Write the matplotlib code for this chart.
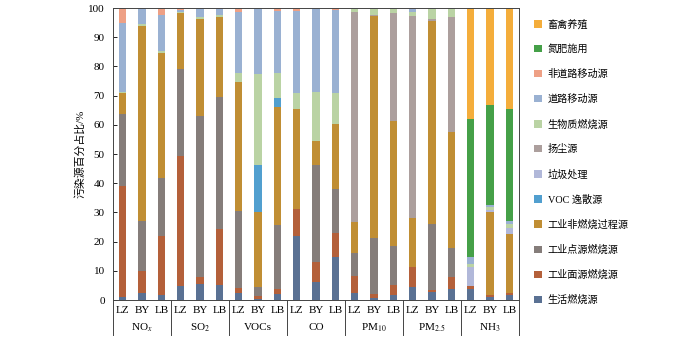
import matplotlib
matplotlib.use("Agg")
import matplotlib.pyplot as plt
from matplotlib.patches import Patch
from matplotlib.transforms import blended_transform_factory

plt.rcParams['font.family'] = ['Liberation Serif', 'Noto Sans CJK SC']
plt.rcParams['mathtext.fontset'] = 'stix'

# bars: 7 pollutants x 3 cities
cities = ['LZ', 'BY', 'LB']
pollutants = [r'NO$_x$', r'SO$_2$', 'VOCs', 'CO', r'PM$_{10}$', r'PM$_{2.5}$', r'NH$_3$']

# source shares (%) per bar, bottom to top of the stack
residential = [0.9, 2.5, 1.7, 4.9, 5.4, 5.1, 2.4, 0.5, 2.1, 21.9, 6.3, 14.8,
               2.3, 0.8, 1.6, 4.3, 2.6, 3.7, 3.7, 1.0, 1.6]
ind_area = [38.3, 7.5, 20.1, 44.3, 2.6, 19.2, 1.6, 1.0, 1.6, 9.3, 6.6, 8.1,
            5.9, 1.3, 3.5, 6.9, 0.9, 4.1, 1.1, 0.7, 0.7]
ind_point = [24.5, 17.1, 19.9, 29.8, 55.1, 45.1, 26.6, 3.1, 22.0, 0.0, 33.3, 15.0,
             7.8, 19.0, 13.4, 0.0, 22.4, 9.9, 0.0, 0.0, 0.0]
ind_process = [7.1, 66.9, 43.0, 19.2, 33.1, 27.6, 44.1, 25.5, 40.3, 34.2, 8.3, 22.5,
               10.8, 76.2, 42.7, 16.8, 69.6, 39.9, 0.0, 28.4, 20.2]
voc_fugitive = [0, 0, 0, 0, 0, 0, 0, 16.1, 3.3, 0, 0, 0,
                0, 0, 0, 0, 0, 0, 0, 0, 0]
waste = [0, 0, 0, 0, 0, 0, 0, 0, 0, 0, 0, 0,
         0, 0, 0, 0, 0, 0, 6.4, 0.7, 2.3]
dust = [0, 0, 0, 0, 0, 0, 0, 0, 0, 0, 0, 0,
        71.8, 0.3, 37.0, 69.4, 0.6, 39.2, 0, 0, 0]
biomass = [0.3, 0.5, 0.6, 0.5, 0.8, 0.6, 3.0, 31.2, 8.4, 5.4, 16.7, 10.5,
           0.9, 1.9, 1.5, 1.3, 3.4, 2.7, 1.0, 0.9, 1.3]
road = [23.6, 5.5, 12.3, 0.6, 3.0, 2.1, 21.0, 22.6, 21.3, 28.2, 28.8, 28.4,
        0.5, 0.5, 0.3, 0.8, 0.5, 0.5, 2.4, 0.8, 1.1]
nonroad = [5.3, 0, 2.4, 0.7, 0, 0.3, 1.3, 0, 1.0, 1.0, 0, 0.7,
           0, 0, 0, 0.5, 0, 0, 0, 0, 0]
fertilizer = [0, 0, 0, 0, 0, 0, 0, 0, 0, 0, 0, 0,
              0, 0, 0, 0, 0, 0, 47.5, 34.3, 38.2]
livestock = [0, 0, 0, 0, 0, 0, 0, 0, 0, 0, 0, 0,
             0, 0, 0, 0, 0, 0, 37.9, 33.2, 34.6]

series = [
    ('生活燃烧源', residential, '#5a7193'),
    ('工业面源燃烧源', ind_area, '#b4603a'),
    ('工业点源燃烧源', ind_point, '#857d7a'),
    ('工业非燃烧过程源', ind_process, '#c08e34'),
    ('VOC 逸散源', voc_fugitive, '#519fcf'),
    ('垃圾处理', waste, '#b1b8d9'),
    ('扬尘源', dust, '#ac9f9d'),
    ('生物质燃烧源', biomass, '#bad3a4'),
    ('道路移动源', road, '#9ab1d2'),
    ('非道路移动源', nonroad, '#eea085'),
    ('氮肥施用', fertilizer, '#45a048'),
    ('畜禽养殖', livestock, '#f4ad3b'),
]

fig = plt.figure(figsize=(7.0, 3.37), dpi=100)
ax = fig.add_axes([113 / 700, 37 / 337, 406 / 700, 292 / 337])

n = len(residential)
x = list(range(n))
bottom = [0.0] * n
for name, vals, color in series:
    ax.bar(x, vals, width=0.38, bottom=bottom, color=color, linewidth=0)
    bottom = [b + v for b, v in zip(bottom, vals)]

ax.set_xlim(-0.5, n - 0.5)
ax.set_ylim(0, 100)
ax.set_yticks(range(0, 101, 10))
ax.tick_params(axis='y', direction='in', length=3, width=0.6, labelsize=8, pad=6)
ax.set_xticks(x)
ax.set_xticklabels(cities * len(pollutants), fontsize=8)
ax.tick_params(axis='x', length=0, pad=4)
for s in ax.spines.values():
    s.set_linewidth(0.7)
    s.set_color('#444444')

ax.set_ylabel('污染源百分占比/%', fontsize=7.8, labelpad=2)

# group labels and separators below the axis
trans = blended_transform_factory(ax.transData, ax.transAxes)
for g, name in enumerate(pollutants):
    ax.text(g * 3 + 1, -0.095, name, transform=trans, ha='center', va='center', fontsize=8)
for g in range(len(pollutants) + 1):
    ax.plot([g * 3 - 0.5, g * 3 - 0.5], [0, -0.12], transform=trans,
            color='#444444', linewidth=0.7, clip_on=False)

handles = [Patch(facecolor=c, label=nm) for nm, _, c in series][::-1]
fig.legend(handles=handles, loc='upper left', bbox_to_anchor=(530 / 700, 1 - 15 / 337),
           frameon=False, fontsize=7.3, handlelength=0.75, handleheight=0.75,
           handletextpad=0.6, labelspacing=1.47, borderaxespad=0)

fig.savefig('out.png', dpi=100)
